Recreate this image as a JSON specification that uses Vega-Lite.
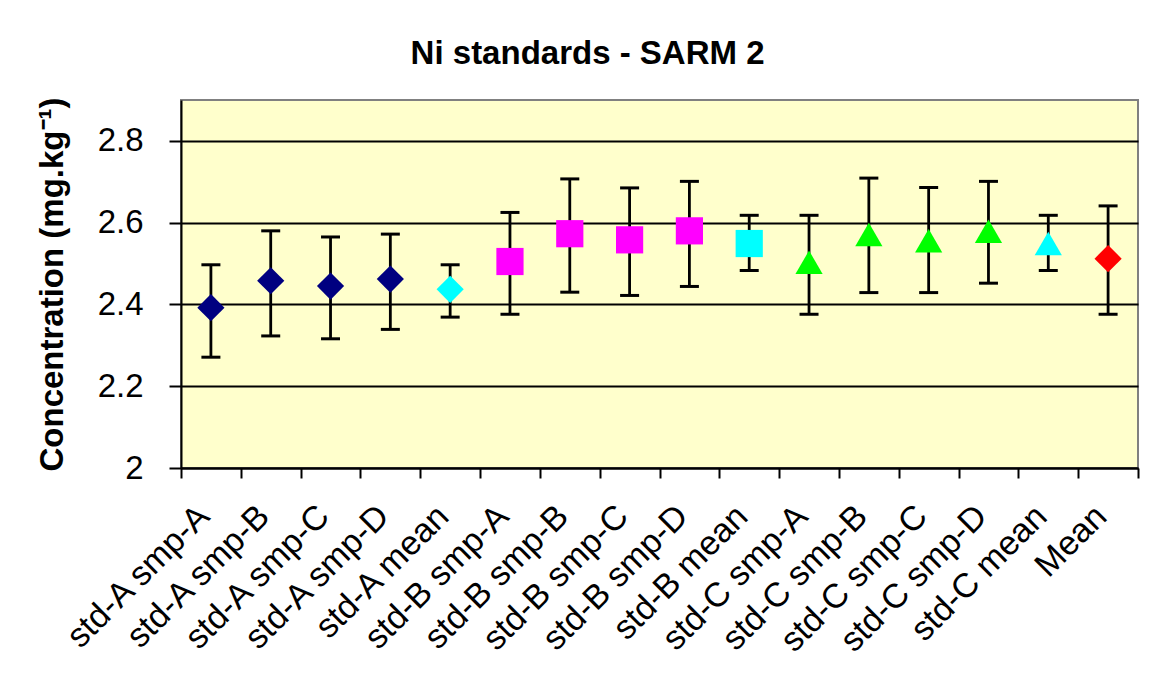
{
  "$schema": "https://vega.github.io/schema/vega-lite/v6.json",
  "width": 957,
  "height": 368,
  "autosize": {"type": "none"},
  "padding": {"left": 181, "top": 100, "right": 29, "bottom": 209},
  "background": "white",
  "title": {
    "text": "Ni standards - SARM 2",
    "font": "Liberation Sans",
    "fontSize": 33,
    "fontWeight": "bold",
    "color": "black",
    "anchor": "middle",
    "frame": "bounds",
    "baseline": "alphabetic",
    "offset": 0
  },
  "config": {
    "view": {"fill": "#FFFFCC", "stroke": "#808080", "strokeWidth": 2}
  },
  "data": {
    "values": [
      {"sample": "std-A smp-A", "series": "std-A", "value": 2.392, "lo": 2.271, "hi": 2.497},
      {"sample": "std-A smp-B", "series": "std-A", "value": 2.458, "lo": 2.323, "hi": 2.580},
      {"sample": "std-A smp-C", "series": "std-A", "value": 2.445, "lo": 2.316, "hi": 2.565},
      {"sample": "std-A smp-D", "series": "std-A", "value": 2.462, "lo": 2.339, "hi": 2.572},
      {"sample": "std-A mean", "series": "std-A mean", "value": 2.437, "lo": 2.369, "hi": 2.497},
      {"sample": "std-B smp-A", "series": "std-B", "value": 2.505, "lo": 2.376, "hi": 2.625},
      {"sample": "std-B smp-B", "series": "std-B", "value": 2.573, "lo": 2.430, "hi": 2.707},
      {"sample": "std-B smp-C", "series": "std-B", "value": 2.558, "lo": 2.422, "hi": 2.685},
      {"sample": "std-B smp-D", "series": "std-B", "value": 2.580, "lo": 2.444, "hi": 2.701},
      {"sample": "std-B mean", "series": "std-B mean", "value": 2.549, "lo": 2.483, "hi": 2.618},
      {"sample": "std-C smp-A", "series": "std-C", "value": 2.503, "lo": 2.376, "hi": 2.618},
      {"sample": "std-C smp-B", "series": "std-C", "value": 2.571, "lo": 2.429, "hi": 2.709},
      {"sample": "std-C smp-C", "series": "std-C", "value": 2.556, "lo": 2.429, "hi": 2.686},
      {"sample": "std-C smp-D", "series": "std-C", "value": 2.579, "lo": 2.452, "hi": 2.701},
      {"sample": "std-C mean", "series": "std-C mean", "value": 2.549, "lo": 2.483, "hi": 2.618},
      {"sample": "Mean", "series": "Mean", "value": 2.512, "lo": 2.376, "hi": 2.641}
    ]
  },
  "encoding": {
    "x": {
      "field": "sample",
      "type": "nominal",
      "sort": null,
      "scale": {"paddingInner": 0, "paddingOuter": 0},
      "axis": {
        "title": null,
        "labelAngle": -45,
        "labelAlign": "right",
        "labelBaseline": "alphabetic",
        "labelFont": "Liberation Sans",
        "labelFontSize": 34,
        "labelColor": "black",
        "labelPadding": 40,
        "labelLimit": 400,
        "labelOverlap": false,
        "tickBand": "extent",
        "tickSize": 10,
        "tickWidth": 2,
        "tickColor": "black",
        "domainColor": "black",
        "domainWidth": 2,
        "grid": false
      }
    }
  },
  "layer": [
    {
      "mark": {"type": "rule", "color": "black", "strokeWidth": 2.8},
      "encoding": {
        "y": {
          "field": "lo", "type": "quantitative",
          "scale": {"domain": [2, 2.9], "nice": false, "zero": false},
          "axis": {
            "title": "Concentration (mg.kg⁻¹)",
            "values": [2, 2.2, 2.4, 2.6, 2.8],
            "format": "~g",
            "grid": true, "gridColor": "black", "gridWidth": 2, "gridOpacity": 1,
            "domainColor": "black", "domainWidth": 2,
            "tickColor": "black", "tickWidth": 2, "tickSize": 12,
            "labelFont": "Liberation Sans", "labelFontSize": 33, "labelColor": "black",
            "labelPadding": 26, "labelFlush": false,
            "titleFont": "Liberation Sans", "titleFontSize": 33, "titleFontWeight": "bold",
            "titleColor": "black", "titlePadding": 28
          }
        },
        "y2": {"field": "hi"}
      }
    },
    {
      "mark": {"type": "tick", "color": "black", "orient": "horizontal", "size": 19, "thickness": 3, "opacity": 1},
      "encoding": {
        "y": {
          "field": "lo", "type": "quantitative",
          "scale": {"domain": [2, 2.9], "nice": false, "zero": false},
          "axis": {
            "title": "Concentration (mg.kg⁻¹)",
            "values": [2, 2.2, 2.4, 2.6, 2.8],
            "format": "~g",
            "grid": true, "gridColor": "black", "gridWidth": 2, "gridOpacity": 1,
            "domainColor": "black", "domainWidth": 2,
            "tickColor": "black", "tickWidth": 2, "tickSize": 12,
            "labelFont": "Liberation Sans", "labelFontSize": 33, "labelColor": "black",
            "labelPadding": 26, "labelFlush": false,
            "titleFont": "Liberation Sans", "titleFontSize": 33, "titleFontWeight": "bold",
            "titleColor": "black", "titlePadding": 28
          }
        }
      }
    },
    {
      "mark": {"type": "tick", "color": "black", "orient": "horizontal", "size": 19, "thickness": 3, "opacity": 1},
      "encoding": {
        "y": {
          "field": "hi", "type": "quantitative",
          "scale": {"domain": [2, 2.9], "nice": false, "zero": false},
          "axis": {
            "title": "Concentration (mg.kg⁻¹)",
            "values": [2, 2.2, 2.4, 2.6, 2.8],
            "format": "~g",
            "grid": true, "gridColor": "black", "gridWidth": 2, "gridOpacity": 1,
            "domainColor": "black", "domainWidth": 2,
            "tickColor": "black", "tickWidth": 2, "tickSize": 12,
            "labelFont": "Liberation Sans", "labelFontSize": 33, "labelColor": "black",
            "labelPadding": 26, "labelFlush": false,
            "titleFont": "Liberation Sans", "titleFontSize": 33, "titleFontWeight": "bold",
            "titleColor": "black", "titlePadding": 28
          }
        }
      }
    },
    {
      "mark": {"type": "point", "filled": true, "size": 740, "opacity": 1, "strokeWidth": 0},
      "encoding": {
        "y": {
          "field": "value", "type": "quantitative",
          "scale": {"domain": [2, 2.9], "nice": false, "zero": false},
          "axis": {
            "title": "Concentration (mg.kg⁻¹)",
            "values": [2, 2.2, 2.4, 2.6, 2.8],
            "format": "~g",
            "grid": true, "gridColor": "black", "gridWidth": 2, "gridOpacity": 1,
            "domainColor": "black", "domainWidth": 2,
            "tickColor": "black", "tickWidth": 2, "tickSize": 12,
            "labelFont": "Liberation Sans", "labelFontSize": 33, "labelColor": "black",
            "labelPadding": 26, "labelFlush": false,
            "titleFont": "Liberation Sans", "titleFontSize": 33, "titleFontWeight": "bold",
            "titleColor": "black", "titlePadding": 28
          }
        },
        "shape": {
          "field": "series",
          "type": "nominal",
          "scale": {
            "domain": ["std-A", "std-A mean", "std-B", "std-B mean", "std-C", "std-C mean", "Mean"],
            "range": ["diamond", "diamond", "square", "square", "triangle-up", "triangle-up", "diamond"]
          },
          "legend": null
        },
        "color": {
          "field": "series",
          "type": "nominal",
          "scale": {
            "domain": ["std-A", "std-A mean", "std-B", "std-B mean", "std-C", "std-C mean", "Mean"],
            "range": ["#000080", "#00FFFF", "#FF00FF", "#00FFFF", "#00FF00", "#00FFFF", "#FF0000"]
          },
          "legend": null
        }
      }
    }
  ]
}
